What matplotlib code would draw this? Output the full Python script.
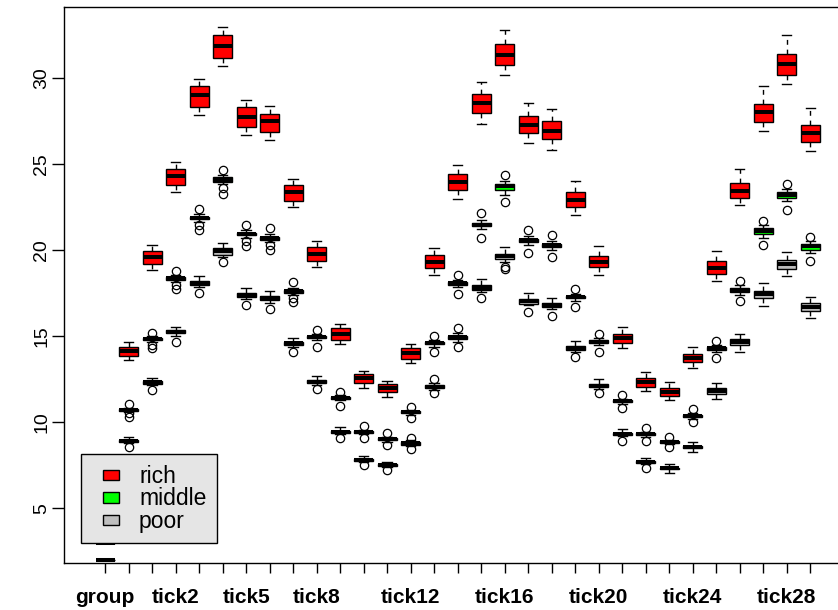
import matplotlib
matplotlib.use("Agg")
import matplotlib.pyplot as plt
import matplotlib.patches as mpatches
from matplotlib.legend_handler import HandlerPatch
import numpy as np

plt.rcParams["font.family"] = ["Liberation Sans", "DejaVu Sans"]

# columns: group, tick0 .. tick29
names = ["group"] + ["tick%d" % i for i in range(30)]
shown = ["group", "tick2", "tick5", "tick8", "tick12", "tick16", "tick20", "tick24", "tick28"]
series = ["rich", "middle", "poor"]
colors = ["#FF0000", "#00FF00", "#BEBEBE"]

# rich
rich_lo = [3.0, 13.63, 18.87, 23.39, 27.86, 30.71, 26.73, 26.40, 22.50, 19.06, 14.56, 12.02, 11.49, 13.43, 18.57,
           22.98, 27.35, 30.19, 26.25, 25.86, 22.03, 18.57, 14.31, 11.82, 11.30, 13.18, 18.23, 22.62, 26.93, 29.68, 25.80]
rich_q1 = [3.0, 13.88, 19.20, 23.78, 28.32, 31.20, 27.16, 26.89, 22.85, 19.36, 14.79, 12.27, 11.74, 13.68, 18.96,
           23.49, 27.99, 30.81, 26.83, 26.50, 22.52, 19.05, 14.60, 12.08, 11.55, 13.49, 18.62, 23.04, 27.47, 30.22, 26.30]
rich_med = [3.0, 14.17, 19.62, 24.34, 29.02, 31.88, 27.76, 27.51, 23.39, 19.80, 15.14, 12.56, 11.98, 14.01, 19.35,
            23.97, 28.57, 31.35, 27.31, 26.93, 22.94, 19.34, 14.89, 12.33, 11.76, 13.76, 18.97, 23.47, 28.03, 30.85, 26.83]
rich_q3 = [3.0, 14.40, 19.97, 24.75, 29.55, 32.55, 28.32, 27.95, 23.78, 20.17, 15.47, 12.81, 12.21, 14.31, 19.74,
           24.44, 29.12, 32.01, 27.84, 27.51, 23.39, 19.67, 15.14, 12.56, 11.98, 13.96, 19.36, 23.92, 28.53, 31.43, 27.31]
rich_hi = [3.0, 14.70, 20.32, 25.14, 29.99, 32.98, 28.73, 28.40, 24.17, 20.52, 15.72, 12.98, 12.40, 14.56, 20.13,
           24.95, 29.78, 32.84, 28.57, 28.23, 24.05, 20.26, 15.57, 12.91, 12.33, 14.40, 19.97, 24.75, 29.55, 32.52, 28.28]
rich_out = [[] for _ in names]

# middle
mid_lo = [2.0, 10.60, 14.65, 18.18, 21.66, 23.85, 20.74, 20.50, 17.40, 14.78, 11.28, 9.32, 8.87, 10.44, 14.40,
          17.88, 21.22, 23.23, 20.32, 20.05, 17.08, 14.50, 11.08, 9.15, 8.72, 10.22, 14.10, 17.40, 20.70, 22.85, 19.85]
mid_q1 = [2.0, 10.65, 14.76, 18.30, 21.80, 23.98, 20.87, 20.63, 17.53, 14.90, 11.37, 9.40, 8.96, 10.52, 14.53,
          18.01, 21.40, 23.49, 20.50, 20.22, 17.21, 14.63, 11.18, 9.25, 8.82, 10.33, 14.23, 17.57, 20.95, 23.04, 20.03]
mid_med = [2.0, 10.71, 14.83, 18.38, 21.88, 24.11, 20.95, 20.71, 17.61, 14.97, 11.43, 9.45, 9.01, 10.58, 14.60,
           18.09, 21.49, 23.76, 20.58, 20.30, 17.28, 14.70, 11.24, 9.30, 8.87, 10.39, 14.31, 17.70, 21.14, 23.23, 20.23]
mid_q3 = [2.0, 10.77, 14.90, 18.46, 21.96, 24.25, 21.03, 20.79, 17.69, 15.04, 11.49, 9.50, 9.06, 10.64, 14.67,
          18.17, 21.58, 23.87, 20.66, 20.38, 17.35, 14.77, 11.30, 9.35, 8.92, 10.45, 14.39, 17.82, 21.29, 23.39, 20.36]
mid_hi = [2.0, 10.85, 15.00, 18.58, 22.10, 24.40, 21.18, 20.94, 17.84, 15.15, 11.58, 9.58, 9.15, 10.72, 14.80,
          18.30, 21.75, 24.05, 20.85, 20.55, 17.48, 14.88, 11.38, 9.45, 9.00, 10.55, 14.50, 18.00, 21.50, 23.60, 20.55]
mid_out = [[], [11.04, 10.52, 10.33], [15.22, 14.50, 14.31], [18.81, 17.99, 17.76], [22.40, 21.49, 21.20],
           [24.69, 23.62, 23.27], [21.49, 20.52, 20.23], [21.29, 20.32, 20.00], [18.19, 17.22, 16.99],
           [15.35, 14.40], [11.78, 10.97], [9.78, 9.11], [9.36, 8.67], [10.91, 10.23], [15.05, 14.07],
           [18.57, 17.46], [22.17, 20.71], [24.40, 22.81], [21.20, 19.84], [20.90, 19.61], [17.74, 16.68],
           [15.12, 14.11], [11.59, 10.81], [9.65, 8.93], [9.16, 8.54], [10.75, 10.00], [14.73, 13.76],
           [18.23, 17.06], [21.72, 20.32], [23.86, 22.36], [20.77, 19.39]]

# poor
poor_lo = [1.0, 8.80, 12.15, 15.05, 17.85, 19.62, 17.15, 16.95, 14.40, 12.18, 9.32, 7.68, 7.40, 8.62, 11.90,
           14.70, 17.58, 19.35, 16.80, 16.60, 14.10, 11.95, 9.18, 7.58, 7.06, 8.29, 11.35, 14.11, 16.79, 18.54, 16.05]
poor_q1 = [1.0, 8.87, 12.25, 15.18, 17.98, 19.74, 17.28, 17.09, 14.50, 12.29, 9.40, 7.75, 7.46, 8.71, 12.00,
           14.85, 17.72, 19.50, 16.90, 16.70, 14.20, 12.04, 9.26, 7.66, 7.27, 8.52, 11.65, 14.50, 17.26, 18.93, 16.50]
poor_med = [1.0, 8.93, 12.33, 15.28, 18.10, 19.94, 17.41, 17.22, 14.60, 12.37, 9.45, 7.80, 7.51, 8.77, 12.08,
            14.95, 17.84, 19.65, 17.03, 16.83, 14.31, 12.13, 9.32, 7.71, 7.32, 8.58, 11.82, 14.66, 17.45, 19.22, 16.73]
poor_q3 = [1.0, 8.99, 12.41, 15.38, 18.22, 20.13, 17.54, 17.35, 14.70, 12.45, 9.50, 7.85, 7.56, 8.83, 12.16,
           15.05, 17.96, 19.80, 17.16, 16.96, 14.42, 12.22, 9.38, 7.76, 7.37, 8.64, 11.99, 14.85, 17.64, 19.45, 16.93]
poor_hi = [1.0, 9.12, 12.60, 15.53, 18.54, 20.42, 17.84, 17.61, 14.93, 12.72, 9.70, 8.06, 7.71, 8.95, 12.30,
           15.20, 18.32, 20.17, 17.51, 17.26, 14.73, 12.52, 9.59, 7.94, 7.55, 8.87, 12.27, 15.12, 18.09, 19.90, 17.28]
poor_out = [[], [8.58], [11.88], [14.70], [17.54], [19.31], [16.83], [16.59], [14.07], [11.91], [9.06], [7.51],
            [7.22], [9.06, 8.44], [12.52, 11.68], [15.47, 14.40], [17.22], [19.01, 18.90], [16.44], [16.21],
            [13.82], [11.68], [8.91], [7.32], [], [], [], [], [], [], []]


def make_stats(lo, q1, med, q3, hi, out):
    return [dict(whislo=a, q1=b, med=c, q3=d, whishi=e, fliers=f)
            for a, b, c, d, e, f in zip(lo, q1, med, q3, hi, out)]


all_stats = [
    make_stats(rich_lo, rich_q1, rich_med, rich_q3, rich_hi, rich_out),
    make_stats(mid_lo, mid_q1, mid_med, mid_q3, mid_hi, mid_out),
    make_stats(poor_lo, poor_q1, poor_med, poor_q3, poor_hi, poor_out),
]

fig = plt.figure(figsize=(8.38, 6.10), dpi=100)
ax = fig.add_axes([64.3 / 838, (610 - 563.3) / 610, 786.8 / 838, 556 / 610])
positions = np.arange(1, len(names) + 1)

for i, (stats, col) in enumerate(zip(all_stats, colors)):
    ax.bxp(stats, positions=positions, widths=0.8, capwidths=0.4, patch_artist=True,
           manage_ticks=False, zorder=2 + i,
           boxprops=dict(facecolor=col, edgecolor="black", linewidth=1.0),
           medianprops=dict(color="black", linewidth=2.9, solid_capstyle="butt"),
           whiskerprops=dict(color="black", linewidth=1.0, linestyle=(0, (3.5, 3.5))),
           capprops=dict(color="black", linewidth=1.0),
           flierprops=dict(marker="o", markerfacecolor="none", markeredgecolor="black",
                           markersize=6, markeredgewidth=0.9, linestyle="none"))

ax.set_xlim(-0.74, 32.74)
ax.set_ylim(1.80, 34.14)
ax.set_xticks(positions)
ax.set_xticklabels([n if n in shown else "" for n in names], fontsize=15, fontweight="bold")
ax.set_yticks([5, 10, 15, 20, 25, 30])
ax.tick_params(axis="x", length=7.2, width=1, pad=10.5, colors="black")
ax.tick_params(axis="y", length=9, width=1, pad=1, labelsize=14, labelrotation=90)
for t in ax.get_yticklabels():
    t.set_verticalalignment("center")
for s in ax.spines.values():
    s.set_linewidth(1)
    s.set_color("black")

# legend swatches drawn small and to the right of the handle box, R-style
sw_pt, sh_pt = 16.7 * 0.72, 10.7 * 0.72


def swatch(legend, orig_handle, xdescent, ydescent, width, height, fontsize):
    return mpatches.Rectangle((-xdescent + width - sw_pt, -ydescent + (height - sh_pt) / 2), sw_pt, sh_pt)


handles = [mpatches.Patch(facecolor=c, edgecolor="black", linewidth=1) for c in colors]
leg = ax.legend(handles, series, loc="lower left", bbox_to_anchor=(81 / 838, (610 - 543.3) / 610),
                bbox_transform=fig.transFigure, borderaxespad=0, fontsize=16.5,
                handlelength=1.215, handleheight=1.0, handletextpad=0.86, borderpad=0.456,
                labelspacing=-0.026, fancybox=False, framealpha=1, facecolor="#E5E5E5",
                edgecolor="black", handler_map={mpatches.Patch: HandlerPatch(patch_func=swatch)})
leg.get_frame().set_linewidth(1)
leg.set_zorder(10)

fig.savefig("out.png", dpi=100)
